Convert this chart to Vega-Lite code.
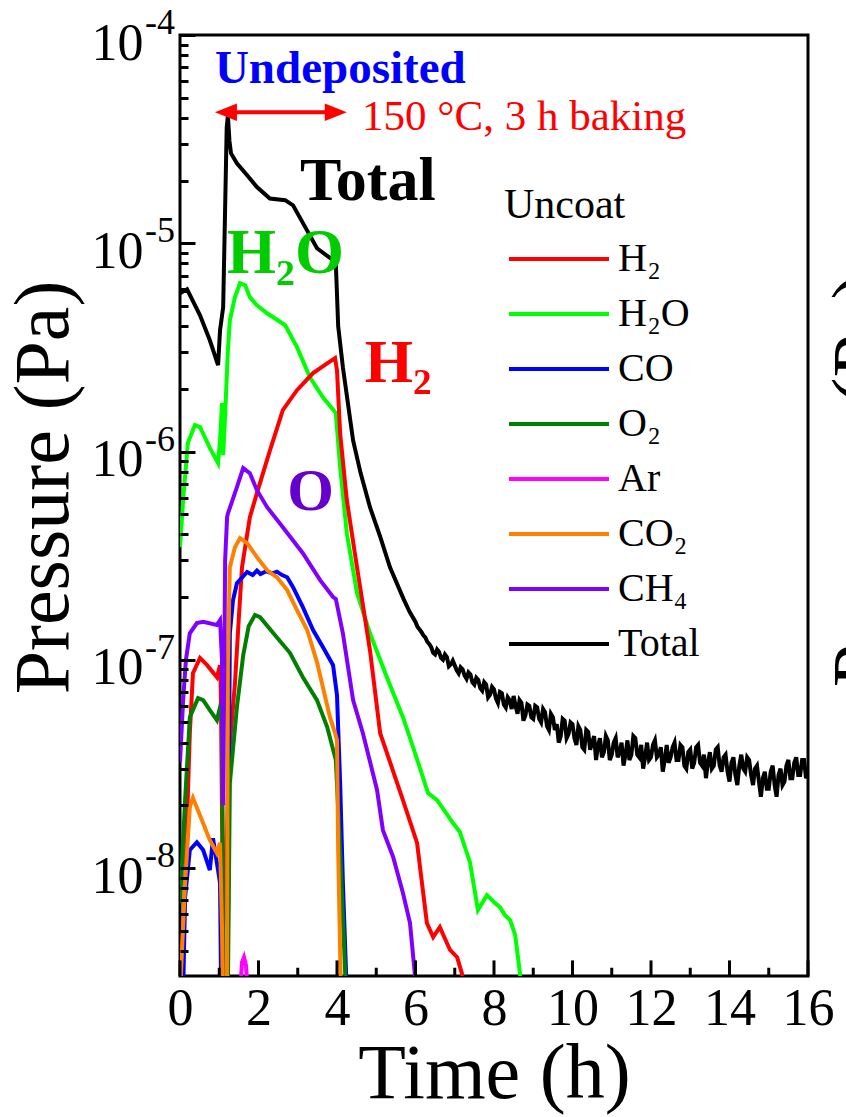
{
"$schema": "https://vega.github.io/schema/vega-lite/v6.json",
"width": 628, "height": 941,
"autosize": "none",
"padding": {"left": 180, "top": 35, "right": 38, "bottom": 141},
"background": "white",
"config": {"font": "Liberation Serif", "view": {"stroke": "black", "strokeWidth": 3}},
"resolve": {"axis": {"x": "independent", "y": "independent"}},
"datasets": {
"curves": [
{"gas":"Total","time":0,"pressure":5.75e-6},{"gas":"Total","time":0.18,"pressure":6.01e-6},{"gas":"Total","time":0.51,"pressure":4.51e-6},{"gas":"Total","time":0.76,"pressure":3.42e-6},{"gas":"Total","time":0.97,"pressure":2.60e-6},{"gas":"Total","time":1.02,"pressure":3.82e-6},{"gas":"Total","time":1.10,"pressure":4.93e-6},{"gas":"Total","time":1.19,"pressure":3.6e-5},{"gas":"Total","time":1.22,"pressure":4.1e-5},{"gas":"Total","time":1.26,"pressure":3.1e-5},{"gas":"Total","time":1.30,"pressure":2.70e-5},{"gas":"Total","time":1.45,"pressure":2.42e-5},{"gas":"Total","time":1.71,"pressure":2.12e-5},{"gas":"Total","time":1.96,"pressure":1.86e-5},{"gas":"Total","time":2.29,"pressure":1.64e-5},{"gas":"Total","time":2.68,"pressure":1.61e-5},{"gas":"Total","time":2.88,"pressure":1.52e-5},{"gas":"Total","time":3.24,"pressure":1.15e-5},{"gas":"Total","time":3.49,"pressure":9.46e-6},{"gas":"Total","time":3.90,"pressure":8.29e-6},{"gas":"Total","time":3.97,"pressure":8.02e-6},{"gas":"Total","time":4.03,"pressure":4.0e-6},{"gas":"Total","time":4.15,"pressure":2.54e-6},{"gas":"Total","time":4.41,"pressure":1.13e-6},{"gas":"Total","time":4.60,"pressure":7.9e-7},{"gas":"Total","time":4.84,"pressure":5.40e-7},{"gas":"Total","time":5.10,"pressure":3.9e-7},{"gas":"Total","time":5.35,"pressure":2.78e-7},{"gas":"Total","time":5.70,"pressure":1.95e-7},{"gas":"Total","time":5.85,"pressure":1.7e-7},
{"gas":"Total","time":6.0,"pressure":1.52e-7},{"gas":"Total","time":6.05,"pressure":1.44e-7},{"gas":"Total","time":6.1,"pressure":1.40e-7},{"gas":"Total","time":6.15,"pressure":1.36e-7},{"gas":"Total","time":6.2,"pressure":1.31e-7},{"gas":"Total","time":6.25,"pressure":1.28e-7},{"gas":"Total","time":6.3,"pressure":1.22e-7},{"gas":"Total","time":6.35,"pressure":1.19e-7},{"gas":"Total","time":6.4,"pressure":1.15e-7},{"gas":"Total","time":6.45,"pressure":1.08e-7},{"gas":"Total","time":6.5,"pressure":1.06e-7},{"gas":"Total","time":6.55,"pressure":1.12e-7},{"gas":"Total","time":6.6,"pressure":1.09e-7},{"gas":"Total","time":6.65,"pressure":1.02e-7},{"gas":"Total","time":6.7,"pressure":1.00e-7},{"gas":"Total","time":6.75,"pressure":1.06e-7},{"gas":"Total","time":6.8,"pressure":1.03e-7},{"gas":"Total","time":6.85,"pressure":9.3e-8},{"gas":"Total","time":6.9,"pressure":9.5e-8},{"gas":"Total","time":6.95,"pressure":9.9e-8},
{"gas":"Total","time":7.0,"pressure":9.4e-8},{"gas":"Total","time":7.05,"pressure":8.9e-8},{"gas":"Total","time":7.1,"pressure":8.6e-8},{"gas":"Total","time":7.15,"pressure":9.2e-8},{"gas":"Total","time":7.2,"pressure":9.0e-8},{"gas":"Total","time":7.25,"pressure":8.4e-8},{"gas":"Total","time":7.3,"pressure":8.1e-8},{"gas":"Total","time":7.35,"pressure":8.7e-8},{"gas":"Total","time":7.4,"pressure":8.5e-8},{"gas":"Total","time":7.45,"pressure":7.8e-8},{"gas":"Total","time":7.5,"pressure":7.6e-8},{"gas":"Total","time":7.55,"pressure":8.2e-8},{"gas":"Total","time":7.6,"pressure":8.0e-8},{"gas":"Total","time":7.65,"pressure":7.3e-8},{"gas":"Total","time":7.7,"pressure":7.1e-8},{"gas":"Total","time":7.75,"pressure":7.8e-8},{"gas":"Total","time":7.8,"pressure":7.6e-8},{"gas":"Total","time":7.85,"pressure":6.6e-8},{"gas":"Total","time":7.9,"pressure":6.8e-8},{"gas":"Total","time":7.95,"pressure":7.4e-8},
{"gas":"Total","time":8.0,"pressure":7.2e-8},{"gas":"Total","time":8.05,"pressure":6.5e-8},{"gas":"Total","time":8.1,"pressure":6.2e-8},{"gas":"Total","time":8.15,"pressure":7.0e-8},{"gas":"Total","time":8.2,"pressure":6.9e-8},{"gas":"Total","time":8.25,"pressure":6.1e-8},{"gas":"Total","time":8.3,"pressure":5.9e-8},{"gas":"Total","time":8.35,"pressure":6.6e-8},{"gas":"Total","time":8.4,"pressure":6.4e-8},{"gas":"Total","time":8.45,"pressure":5.8e-8},{"gas":"Total","time":8.5,"pressure":6.7e-8},{"gas":"Total","time":8.55,"pressure":6.0e-8},{"gas":"Total","time":8.6,"pressure":5.5e-8},{"gas":"Total","time":8.65,"pressure":6.4e-8},{"gas":"Total","time":8.7,"pressure":6.2e-8},{"gas":"Total","time":8.75,"pressure":5.1e-8},{"gas":"Total","time":8.8,"pressure":5.4e-8},{"gas":"Total","time":8.85,"pressure":6.1e-8},{"gas":"Total","time":8.9,"pressure":6.0e-8},{"gas":"Total","time":8.95,"pressure":5.3e-8},
{"gas":"Total","time":9.0,"pressure":5.2e-8},{"gas":"Total","time":9.05,"pressure":6.0e-8},{"gas":"Total","time":9.1,"pressure":5.9e-8},{"gas":"Total","time":9.15,"pressure":5.2e-8},{"gas":"Total","time":9.2,"pressure":5.0e-8},{"gas":"Total","time":9.25,"pressure":5.8e-8},{"gas":"Total","time":9.3,"pressure":5.6e-8},{"gas":"Total","time":9.35,"pressure":4.8e-8},{"gas":"Total","time":9.4,"pressure":4.6e-8},{"gas":"Total","time":9.45,"pressure":5.5e-8},{"gas":"Total","time":9.5,"pressure":5.3e-8},{"gas":"Total","time":9.55,"pressure":4.6e-8},{"gas":"Total","time":9.6,"pressure":4.9e-8},{"gas":"Total","time":9.65,"pressure":4.0e-8},{"gas":"Total","time":9.7,"pressure":4.3e-8},{"gas":"Total","time":9.75,"pressure":5.2e-8},{"gas":"Total","time":9.8,"pressure":5.1e-8},{"gas":"Total","time":9.85,"pressure":4.2e-8},{"gas":"Total","time":9.9,"pressure":4.4e-8},{"gas":"Total","time":9.95,"pressure":5.0e-8},
{"gas":"Total","time":10.0,"pressure":4.9e-8},{"gas":"Total","time":10.05,"pressure":4.2e-8},{"gas":"Total","time":10.1,"pressure":3.9e-8},{"gas":"Total","time":10.15,"pressure":4.8e-8},{"gas":"Total","time":10.2,"pressure":4.6e-8},{"gas":"Total","time":10.25,"pressure":3.8e-8},{"gas":"Total","time":10.3,"pressure":3.7e-8},{"gas":"Total","time":10.35,"pressure":4.6e-8},{"gas":"Total","time":10.4,"pressure":4.5e-8},{"gas":"Total","time":10.45,"pressure":3.7e-8},{"gas":"Total","time":10.5,"pressure":4.0e-8},{"gas":"Total","time":10.55,"pressure":4.3e-8},{"gas":"Total","time":10.6,"pressure":3.3e-8},{"gas":"Total","time":10.65,"pressure":3.9e-8},{"gas":"Total","time":10.7,"pressure":4.2e-8},{"gas":"Total","time":10.75,"pressure":3.4e-8},{"gas":"Total","time":10.8,"pressure":3.6e-8},{"gas":"Total","time":10.85,"pressure":4.3e-8},{"gas":"Total","time":10.9,"pressure":4.1e-8},{"gas":"Total","time":10.95,"pressure":3.3e-8},
{"gas":"Total","time":11.0,"pressure":3.5e-8},{"gas":"Total","time":11.05,"pressure":4.0e-8},{"gas":"Total","time":11.1,"pressure":4.2e-8},{"gas":"Total","time":11.15,"pressure":3.4e-8},{"gas":"Total","time":11.2,"pressure":3.6e-8},{"gas":"Total","time":11.25,"pressure":4.0e-8},{"gas":"Total","time":11.3,"pressure":3.1e-8},{"gas":"Total","time":11.35,"pressure":3.5e-8},{"gas":"Total","time":11.4,"pressure":4.1e-8},{"gas":"Total","time":11.45,"pressure":3.3e-8},{"gas":"Total","time":11.5,"pressure":3.5e-8},{"gas":"Total","time":11.55,"pressure":4.3e-8},{"gas":"Total","time":11.6,"pressure":4.2e-8},{"gas":"Total","time":11.65,"pressure":3.5e-8},{"gas":"Total","time":11.7,"pressure":3.4e-8},{"gas":"Total","time":11.75,"pressure":3.9e-8},{"gas":"Total","time":11.8,"pressure":3.0e-8},{"gas":"Total","time":11.85,"pressure":3.4e-8},{"gas":"Total","time":11.9,"pressure":4.0e-8},{"gas":"Total","time":11.95,"pressure":3.3e-8},
{"gas":"Total","time":12.0,"pressure":3.4e-8},{"gas":"Total","time":12.05,"pressure":3.9e-8},{"gas":"Total","time":12.1,"pressure":4.1e-8},{"gas":"Total","time":12.15,"pressure":3.4e-8},{"gas":"Total","time":12.2,"pressure":3.5e-8},{"gas":"Total","time":12.25,"pressure":3.8e-8},{"gas":"Total","time":12.3,"pressure":2.9e-8},{"gas":"Total","time":12.35,"pressure":3.3e-8},{"gas":"Total","time":12.4,"pressure":3.9e-8},{"gas":"Total","time":12.45,"pressure":3.2e-8},{"gas":"Total","time":12.5,"pressure":3.4e-8},{"gas":"Total","time":12.55,"pressure":3.8e-8},{"gas":"Total","time":12.6,"pressure":4.0e-8},{"gas":"Total","time":12.65,"pressure":3.3e-8},{"gas":"Total","time":12.7,"pressure":3.3e-8},{"gas":"Total","time":12.75,"pressure":3.9e-8},{"gas":"Total","time":12.8,"pressure":3.8e-8},{"gas":"Total","time":12.85,"pressure":3.1e-8},{"gas":"Total","time":12.9,"pressure":3.0e-8},{"gas":"Total","time":12.95,"pressure":3.6e-8},
{"gas":"Total","time":13.0,"pressure":3.7e-8},{"gas":"Total","time":13.05,"pressure":3.0e-8},{"gas":"Total","time":13.1,"pressure":3.2e-8},{"gas":"Total","time":13.15,"pressure":3.8e-8},{"gas":"Total","time":13.2,"pressure":3.9e-8},{"gas":"Total","time":13.25,"pressure":3.2e-8},{"gas":"Total","time":13.3,"pressure":3.1e-8},{"gas":"Total","time":13.35,"pressure":3.5e-8},{"gas":"Total","time":13.4,"pressure":2.7e-8},{"gas":"Total","time":13.45,"pressure":3.2e-8},{"gas":"Total","time":13.5,"pressure":3.6e-8},{"gas":"Total","time":13.55,"pressure":3.0e-8},{"gas":"Total","time":13.6,"pressure":3.1e-8},{"gas":"Total","time":13.65,"pressure":3.7e-8},{"gas":"Total","time":13.7,"pressure":3.8e-8},{"gas":"Total","time":13.75,"pressure":3.1e-8},{"gas":"Total","time":13.8,"pressure":2.9e-8},{"gas":"Total","time":13.85,"pressure":3.4e-8},{"gas":"Total","time":13.9,"pressure":3.5e-8},{"gas":"Total","time":13.95,"pressure":2.9e-8},
{"gas":"Total","time":14.0,"pressure":2.6e-8},{"gas":"Total","time":14.05,"pressure":3.2e-8},{"gas":"Total","time":14.1,"pressure":3.4e-8},{"gas":"Total","time":14.15,"pressure":2.8e-8},{"gas":"Total","time":14.2,"pressure":2.5e-8},{"gas":"Total","time":14.25,"pressure":3.1e-8},{"gas":"Total","time":14.3,"pressure":3.5e-8},{"gas":"Total","time":14.35,"pressure":3.0e-8},{"gas":"Total","time":14.4,"pressure":2.9e-8},{"gas":"Total","time":14.45,"pressure":3.4e-8},{"gas":"Total","time":14.5,"pressure":3.3e-8},{"gas":"Total","time":14.55,"pressure":2.8e-8},{"gas":"Total","time":14.6,"pressure":2.5e-8},{"gas":"Total","time":14.65,"pressure":3.0e-8},{"gas":"Total","time":14.7,"pressure":3.1e-8},{"gas":"Total","time":14.75,"pressure":2.6e-8},{"gas":"Total","time":14.8,"pressure":2.2e-8},{"gas":"Total","time":14.85,"pressure":2.7e-8},{"gas":"Total","time":14.9,"pressure":2.9e-8},{"gas":"Total","time":14.95,"pressure":2.4e-8},
{"gas":"Total","time":15.0,"pressure":2.4e-8},{"gas":"Total","time":15.05,"pressure":2.9e-8},{"gas":"Total","time":15.1,"pressure":3.1e-8},{"gas":"Total","time":15.15,"pressure":2.5e-8},{"gas":"Total","time":15.2,"pressure":2.2e-8},{"gas":"Total","time":15.25,"pressure":2.8e-8},{"gas":"Total","time":15.3,"pressure":3.0e-8},{"gas":"Total","time":15.35,"pressure":2.5e-8},{"gas":"Total","time":15.4,"pressure":2.6e-8},{"gas":"Total","time":15.45,"pressure":3.1e-8},{"gas":"Total","time":15.5,"pressure":3.3e-8},{"gas":"Total","time":15.55,"pressure":2.7e-8},{"gas":"Total","time":15.6,"pressure":2.7e-8},{"gas":"Total","time":15.65,"pressure":3.2e-8},{"gas":"Total","time":15.7,"pressure":3.4e-8},{"gas":"Total","time":15.75,"pressure":2.8e-8},{"gas":"Total","time":15.8,"pressure":2.8e-8},{"gas":"Total","time":15.85,"pressure":3.3e-8},{"gas":"Total","time":15.9,"pressure":3.3e-8},{"gas":"Total","time":15.95,"pressure":2.7e-8},{"gas":"Total","time":16.0,"pressure":2.9e-8},

{"gas":"H₂O","time":0,"pressure":3.47e-7},{"gas":"H₂O","time":0.08,"pressure":5.84e-7},{"gas":"H₂O","time":0.20,"pressure":1.10e-6},{"gas":"H₂O","time":0.38,"pressure":1.34e-6},{"gas":"H₂O","time":0.51,"pressure":1.31e-6},{"gas":"H₂O","time":0.76,"pressure":1.04e-6},{"gas":"H₂O","time":0.97,"pressure":8.79e-7},{"gas":"H₂O","time":1.02,"pressure":1.13e-6},{"gas":"H₂O","time":1.07,"pressure":1.71e-6},{"gas":"H₂O","time":1.10,"pressure":9.60e-7},{"gas":"H₂O","time":1.15,"pressure":1.5e-6},{"gas":"H₂O","time":1.22,"pressure":3.06e-6},{"gas":"H₂O","time":1.27,"pressure":4.27e-6},{"gas":"H₂O","time":1.40,"pressure":5.51e-6},{"gas":"H₂O","time":1.53,"pressure":6.43e-6},{"gas":"H₂O","time":1.66,"pressure":6.29e-6},{"gas":"H₂O","time":1.78,"pressure":5.51e-6},{"gas":"H₂O","time":1.96,"pressure":5.04e-6},{"gas":"H₂O","time":2.22,"pressure":4.61e-6},{"gas":"H₂O","time":2.68,"pressure":4.04e-6},{"gas":"H₂O","time":2.98,"pressure":3.17e-6},{"gas":"H₂O","time":3.31,"pressure":2.27e-6},{"gas":"H₂O","time":3.64,"pressure":1.82e-6},{"gas":"H₂O","time":3.97,"pressure":1.53e-6},{"gas":"H₂O","time":4.08,"pressure":8.41e-7},{"gas":"H₂O","time":4.25,"pressure":4.05e-7},{"gas":"H₂O","time":4.51,"pressure":2.09e-7},{"gas":"H₂O","time":4.84,"pressure":1.34e-7},{"gas":"H₂O","time":5.27,"pressure":8.24e-8},{"gas":"H₂O","time":5.68,"pressure":5.30e-8},{"gas":"H₂O","time":5.94,"pressure":3.80e-8},{"gas":"H₂O","time":6.32,"pressure":2.29e-8},{"gas":"H₂O","time":6.55,"pressure":2.12e-8},{"gas":"H₂O","time":6.96,"pressure":1.64e-8},{"gas":"H₂O","time":7.13,"pressure":1.49e-8},{"gas":"H₂O","time":7.39,"pressure":1.06e-8},{"gas":"H₂O","time":7.59,"pressure":6.28e-9},{"gas":"H₂O","time":7.82,"pressure":7.41e-9},{"gas":"H₂O","time":8.03,"pressure":6.78e-9},{"gas":"H₂O","time":8.15,"pressure":6.49e-9},{"gas":"H₂O","time":8.28,"pressure":5.94e-9},{"gas":"H₂O","time":8.41,"pressure":5.62e-9},{"gas":"H₂O","time":8.54,"pressure":4.76e-9},{"gas":"H₂O","time":8.66,"pressure":3.13e-9},{"gas":"H₂O","time":8.71,"pressure":2.5e-9},

{"gas":"H₂","time":0,"pressure":2.5e-9},{"gas":"H₂","time":0.13,"pressure":8.46e-9},{"gas":"H₂","time":0.25,"pressure":4.44e-8},{"gas":"H₂","time":0.33,"pressure":8.62e-8},{"gas":"H₂","time":0.51,"pressure":1.02e-7},{"gas":"H₂","time":0.69,"pressure":9.42e-8},{"gas":"H₂","time":0.94,"pressure":8.24e-8},{"gas":"H₂","time":1.02,"pressure":9.42e-8},{"gas":"H₂","time":1.04,"pressure":7.15e-8},{"gas":"H₂","time":1.10,"pressure":5.04e-9},{"gas":"H₂","time":1.15,"pressure":7.0e-9},{"gas":"H₂","time":1.25,"pressure":3.5e-8},{"gas":"H₂","time":1.40,"pressure":7.7e-8},{"gas":"H₂","time":1.50,"pressure":1.6e-7},{"gas":"H₂","time":1.58,"pressure":2.78e-7},{"gas":"H₂","time":1.78,"pressure":4.84e-7},{"gas":"H₂","time":1.96,"pressure":6.31e-7},{"gas":"H₂","time":2.29,"pressure":1.01e-6},{"gas":"H₂","time":2.62,"pressure":1.58e-6},{"gas":"H₂","time":2.98,"pressure":1.97e-6},{"gas":"H₂","time":3.39,"pressure":2.38e-6},{"gas":"H₂","time":3.75,"pressure":2.65e-6},{"gas":"H₂","time":3.95,"pressure":2.81e-6},{"gas":"H₂","time":4.00,"pressure":2.46e-6},{"gas":"H₂","time":4.08,"pressure":1.22e-6},{"gas":"H₂","time":4.25,"pressure":5.84e-7},{"gas":"H₂","time":4.51,"pressure":2.78e-7},{"gas":"H₂","time":4.84,"pressure":1.11e-7},{"gas":"H₂","time":5.10,"pressure":4.44e-8},{"gas":"H₂","time":5.68,"pressure":2.12e-8},{"gas":"H₂","time":6.04,"pressure":1.32e-8},{"gas":"H₂","time":6.29,"pressure":5.44e-9},{"gas":"H₂","time":6.45,"pressure":4.66e-9},{"gas":"H₂","time":6.62,"pressure":5.20e-9},{"gas":"H₂","time":6.88,"pressure":4.04e-9},{"gas":"H₂","time":7.06,"pressure":3.73e-9},{"gas":"H₂","time":7.18,"pressure":3.13e-9},{"gas":"H₂","time":7.26,"pressure":2.5e-9},

{"gas":"CO","time":0.08,"pressure":2.5e-9},{"gas":"CO","time":0.13,"pressure":7.25e-9},{"gas":"CO","time":0.25,"pressure":1.22e-8},{"gas":"CO","time":0.43,"pressure":1.33e-8},{"gas":"CO","time":0.59,"pressure":1.22e-8},{"gas":"CO","time":0.76,"pressure":9.77e-9},{"gas":"CO","time":0.84,"pressure":1.39e-8},{"gas":"CO","time":0.97,"pressure":9.77e-9},{"gas":"CO","time":1.02,"pressure":8.46e-9},{"gas":"CO","time":1.07,"pressure":1e-9},{"gas":"CO","time":1.20,"pressure":1e-9},{"gas":"CO","time":1.27,"pressure":1.34e-7},{"gas":"CO","time":1.35,"pressure":1.93e-7},{"gas":"CO","time":1.45,"pressure":2.33e-7},{"gas":"CO","time":1.71,"pressure":2.64e-7},{"gas":"CO","time":1.85,"pressure":2.55e-7},{"gas":"CO","time":1.96,"pressure":2.68e-7},{"gas":"CO","time":2.05,"pressure":2.58e-7},{"gas":"CO","time":2.20,"pressure":2.66e-7},{"gas":"CO","time":2.35,"pressure":2.6e-7},{"gas":"CO","time":2.47,"pressure":2.65e-7},{"gas":"CO","time":2.60,"pressure":2.55e-7},{"gas":"CO","time":2.73,"pressure":2.49e-7},{"gas":"CO","time":2.88,"pressure":2.23e-7},{"gas":"CO","time":3.13,"pressure":1.79e-7},{"gas":"CO","time":3.39,"pressure":1.39e-7},{"gas":"CO","time":3.64,"pressure":1.15e-7},{"gas":"CO","time":3.90,"pressure":9.42e-8},{"gas":"CO","time":4.00,"pressure":6.76e-8},{"gas":"CO","time":4.08,"pressure":2.56e-8},{"gas":"CO","time":4.15,"pressure":8.46e-9},{"gas":"CO","time":4.25,"pressure":2.5e-9},

{"gas":"O₂","time":0,"pressure":6.78e-9},{"gas":"O₂","time":0.13,"pressure":2.12e-8},{"gas":"O₂","time":0.25,"pressure":5.30e-8},{"gas":"O₂","time":0.46,"pressure":6.54e-8},{"gas":"O₂","time":0.59,"pressure":6.40e-8},{"gas":"O₂","time":0.76,"pressure":5.73e-8},{"gas":"O₂","time":0.94,"pressure":5.13e-8},{"gas":"O₂","time":1.02,"pressure":5.92e-8},{"gas":"O₂","time":1.07,"pressure":5.73e-8},{"gas":"O₂","time":1.12,"pressure":1e-9},{"gas":"O₂","time":1.20,"pressure":1e-9},{"gas":"O₂","time":1.27,"pressure":2.56e-8},{"gas":"O₂","time":1.45,"pressure":5.92e-8},{"gas":"O₂","time":1.61,"pressure":1.05e-7},{"gas":"O₂","time":1.75,"pressure":1.45e-7},{"gas":"O₂","time":1.91,"pressure":1.64e-7},{"gas":"O₂","time":2.04,"pressure":1.60e-7},{"gas":"O₂","time":2.47,"pressure":1.28e-7},{"gas":"O₂","time":2.80,"pressure":1.08e-7},{"gas":"O₂","time":3.13,"pressure":8.24e-8},{"gas":"O₂","time":3.49,"pressure":6.40e-8},{"gas":"O₂","time":3.75,"pressure":4.75e-8},{"gas":"O₂","time":3.97,"pressure":3.30e-8},{"gas":"O₂","time":4.08,"pressure":1.22e-8},{"gas":"O₂","time":4.15,"pressure":5.81e-9},{"gas":"O₂","time":4.23,"pressure":2.5e-9},

{"gas":"Ar","time":1.53,"pressure":2.5e-9},{"gas":"Ar","time":1.58,"pressure":3.53e-9},{"gas":"Ar","time":1.63,"pressure":3.73e-9},{"gas":"Ar","time":1.68,"pressure":3.42e-9},{"gas":"Ar","time":1.73,"pressure":2.5e-9},

{"gas":"CO₂","time":0,"pressure":2.5e-9},{"gas":"CO₂","time":0.13,"pressure":8.46e-9},{"gas":"CO₂","time":0.25,"pressure":1.96e-8},{"gas":"CO₂","time":0.33,"pressure":2.17e-8},{"gas":"CO₂","time":0.59,"pressure":1.64e-8},{"gas":"CO₂","time":0.76,"pressure":1.36e-8},{"gas":"CO₂","time":0.94,"pressure":1.18e-8},{"gas":"CO₂","time":1.02,"pressure":1.32e-8},{"gas":"CO₂","time":1.07,"pressure":5.20e-9},{"gas":"CO₂","time":1.12,"pressure":1e-9},{"gas":"CO₂","time":1.19,"pressure":1e-9},{"gas":"CO₂","time":1.22,"pressure":9.21e-8},{"gas":"CO₂","time":1.27,"pressure":2.78e-7},{"gas":"CO₂","time":1.40,"pressure":3.47e-7},{"gas":"CO₂","time":1.53,"pressure":3.84e-7},{"gas":"CO₂","time":1.71,"pressure":3.63e-7},{"gas":"CO₂","time":1.96,"pressure":3.11e-7},{"gas":"CO₂","time":2.22,"pressure":2.69e-7},{"gas":"CO₂","time":2.47,"pressure":2.49e-7},{"gas":"CO₂","time":2.73,"pressure":2.16e-7},{"gas":"CO₂","time":2.98,"pressure":1.73e-7},{"gas":"CO₂","time":3.24,"pressure":1.39e-7},{"gas":"CO₂","time":3.49,"pressure":9.74e-8},{"gas":"CO₂","time":3.82,"pressure":5.30e-8},{"gas":"CO₂","time":3.95,"pressure":4.44e-8},{"gas":"CO₂","time":4.00,"pressure":4.11e-8},{"gas":"CO₂","time":4.03,"pressure":1.22e-8},{"gas":"CO₂","time":4.10,"pressure":2.5e-9},

{"gas":"CH₄","time":0,"pressure":3.22e-8},{"gas":"CH₄","time":0.08,"pressure":6.40e-8},{"gas":"CH₄","time":0.15,"pressure":9.95e-8},{"gas":"CH₄","time":0.25,"pressure":1.34e-7},{"gas":"CH₄","time":0.43,"pressure":1.50e-7},{"gas":"CH₄","time":0.59,"pressure":1.52e-7},{"gas":"CH₄","time":0.94,"pressure":1.47e-7},{"gas":"CH₄","time":1.02,"pressure":1.55e-7},{"gas":"CH₄","time":1.07,"pressure":1.0e-7},{"gas":"CH₄","time":1.10,"pressure":2.0e-8},{"gas":"CH₄","time":1.15,"pressure":3.0e-7},{"gas":"CH₄","time":1.20,"pressure":4.84e-7},{"gas":"CH₄","time":1.22,"pressure":5.03e-7},{"gas":"CH₄","time":1.45,"pressure":6.74e-7},{"gas":"CH₄","time":1.61,"pressure":8.32e-7},{"gas":"CH₄","time":1.78,"pressure":7.87e-7},{"gas":"CH₄","time":1.96,"pressure":6.52e-7},{"gas":"CH₄","time":2.22,"pressure":5.40e-7},{"gas":"CH₄","time":2.62,"pressure":4.33e-7},{"gas":"CH₄","time":3.13,"pressure":3.25e-7},{"gas":"CH₄","time":3.57,"pressure":2.41e-7},{"gas":"CH₄","time":3.90,"pressure":2.00e-7},{"gas":"CH₄","time":3.97,"pressure":1.96e-7},{"gas":"CH₄","time":4.15,"pressure":1.34e-7},{"gas":"CH₄","time":4.41,"pressure":6.40e-8},{"gas":"CH₄","time":4.66,"pressure":4.44e-8},{"gas":"CH₄","time":5.02,"pressure":2.37e-8},{"gas":"CH₄","time":5.17,"pressure":1.52e-8},{"gas":"CH₄","time":5.43,"pressure":1.13e-8},{"gas":"CH₄","time":5.68,"pressure":7.58e-9},{"gas":"CH₄","time":5.86,"pressure":5.44e-9},{"gas":"CH₄","time":5.99,"pressure":3.0e-9},{"gas":"CH₄","time":6.01,"pressure":2.5e-9}
],
"exponents": [{"value":1e-4,"exponent":"-4"},{"value":1e-5,"exponent":"-5"},{"value":1e-6,"exponent":"-6"},{"value":1e-7,"exponent":"-7"},{"value":1e-8,"exponent":"-8"}],
"majorTicks": [{"time":0},{"time":2},{"time":4},{"time":6},{"time":8},{"time":10},{"time":12},{"time":14},{"time":16}],
"minorTicks": [{"time":1},{"time":3},{"time":5},{"time":7},{"time":9},{"time":11},{"time":13},{"time":15}],
"single": [{}]
},
"layer": [
{
"data": {"name": "curves"},
"mark": {"type": "line", "strokeWidth": 4, "clip": true},
"encoding": {
"x": {"field": "time", "type": "quantitative", "scale": {"domain": [0, 16], "nice": false, "zero": false},
 "axis": {"values": [0,2,4,6,8,10,12,14,16], "orient": "bottom", "title": "Time (h)", "titleFont": "Liberation Serif", "titleFontSize": 78, "titleFontWeight": "normal", "titleColor": "black", "titleBaseline": "alphabetic", "titleY": 121,
 "labelFont": "Liberation Serif", "labelFontSize": 52, "labelColor": "black", "labelBaseline": "alphabetic", "labelPadding": 48, "labelFlush": false, "labelOverlap": false,
 "ticks": false, "tickSize": 0, "domain": false, "grid": false}},
"y": {"field": "pressure", "type": "quantitative", "scale": {"type": "log", "domain": [3.03e-9, 1e-4], "nice": false},
 "axis": {"values": [4e-9,5e-9,6e-9,7e-9,8e-9,9e-9,1e-8,2e-8,3e-8,4e-8,5e-8,6e-8,7e-8,8e-8,9e-8,1e-7,2e-7,3e-7,4e-7,5e-7,6e-7,7e-7,8e-7,9e-7,1e-6,2e-6,3e-6,4e-6,5e-6,6e-6,7e-6,8e-6,9e-6,1e-5,2e-5,3e-5,4e-5,5e-5,6e-5,7e-5,8e-5,9e-5,1e-4],
 "orient": "left", "title": "Pressure (Pa)", "titleFont": "Liberation Serif", "titleFontSize": 78, "titleFontWeight": "normal", "titleColor": "black", "titleAngle": 270, "titleX": -113, "titleY": 452, "titleAlign": "center", "titleBaseline": "alphabetic",
 "labelExpr": "abs(log(datum.value)/LN10 - round(log(datum.value)/LN10)) < 0.001 ? '10' : ''", "labelFont": "Liberation Serif", "labelFontSize": 52, "labelColor": "black", "labelAlign": "right", "labelBaseline": "alphabetic", "labelOffset": 24, "labelPadding": 52, "labelOverlap": false, "labelFlush": false,
 "tickSize": {"condition": {"test": "abs(log(datum.value)/LN10 - round(log(datum.value)/LN10)) < 0.001", "value": -15}, "value": -8}, "tickWidth": 3, "tickColor": "black", "domain": false, "grid": false, "zindex": 1}},
"color": {"field": "gas", "type": "nominal",
 "scale": {"domain": ["H₂","H₂O","CO","O₂","Ar","CO₂","CH₄","Total"], "range": ["#ff0000","#00ff00","#0000ff","#007f00","#ff00ff","#ff8000","#8000ff","#000000"]},
 "legend": {"title": "Uncoat", "orient": "none", "legendX": 324, "legendY": 150, "padding": 0, "titleFont": "Liberation Serif", "titleFontSize": 42, "titleFontWeight": "normal", "titleColor": "black", "titlePadding": 12,
  "labelFont": "Liberation Serif", "labelFontSize": 40, "labelColor": "black", "labelOffset": 74, "symbolType": "M-1.2,0H6.8", "symbolSize": 625, "symbolStrokeWidth": 4, "rowPadding": 15}}
}
},
{
"data": {"name": "majorTicks"},
"mark": {"type": "rule", "color": "black", "strokeWidth": 3},
"encoding": {"x": {"field": "time", "type": "quantitative", "axis": null}, "y": {"datum": 3.03e-9, "type": "quantitative", "scale": {"type": "log"}, "axis": null}, "y2": {"datum": 3.6e-9}}
},
{
"data": {"name": "minorTicks"},
"mark": {"type": "rule", "color": "black", "strokeWidth": 3},
"encoding": {"x": {"field": "time", "type": "quantitative", "axis": null}, "y": {"datum": 3.03e-9, "type": "quantitative", "scale": {"type": "log"}, "axis": null}, "y2": {"datum": 3.32e-9}}
},
{
"data": {"name": "exponents"},
"mark": {"type": "text", "align": "left", "baseline": "alphabetic", "dx": -35, "dy": -1, "fontSize": 36, "font": "Liberation Serif", "color": "black"},
"encoding": {
"x": {"datum": 0, "type": "quantitative", "axis": null},
"y": {"field": "value", "type": "quantitative", "scale": {"type": "log"},
 "axis": {"orient": "right", "title": "Pressure (Pa)", "titleFont": "Liberation Serif", "titleFontSize": 78, "titleFontWeight": "normal", "titleColor": "black", "titleAngle": 270, "titleX": 77, "titleY": 445, "titleAlign": "center", "titleBaseline": "alphabetic", "labels": false, "ticks": false, "domain": false, "grid": false}},
"text": {"field": "exponent"}
}
},
{
"data": {"name": "single"},
"mark": {"type": "rule", "color": "#ff0000", "strokeWidth": 4},
"encoding": {"x": {"datum": 1.17, "type": "quantitative", "axis": null}, "x2": {"datum": 3.97}, "y": {"datum": 4.26e-5, "type": "quantitative", "scale": {"type": "log"}, "axis": null}}
},
{
"data": {"name": "single"},
"mark": {"type": "point", "shape": "M-1,0L1,-0.8L1,0.8Z", "size": 484, "filled": true, "color": "#ff0000", "opacity": 1, "strokeWidth": 0},
"encoding": {"x": {"datum": 1.17, "type": "quantitative", "axis": null}, "y": {"datum": 4.26e-5, "type": "quantitative", "scale": {"type": "log"}, "axis": null}}
},
{
"data": {"name": "single"},
"mark": {"type": "point", "shape": "M1,0L-1,-0.8L-1,0.8Z", "size": 484, "filled": true, "color": "#ff0000", "opacity": 1, "strokeWidth": 0},
"encoding": {"x": {"datum": 3.97, "type": "quantitative", "axis": null}, "y": {"datum": 4.26e-5, "type": "quantitative", "scale": {"type": "log"}, "axis": null}}
},
{
"data": {"name": "single"},
"mark": {"type": "text", "text": "Undeposited", "align": "left", "baseline": "alphabetic", "font": "Liberation Serif", "fontSize": 47, "fontWeight": "bold", "color": "#0000ff"},
"encoding": {"x": {"datum": 0.89, "type": "quantitative", "axis": null}, "y": {"datum": 5.86e-5, "type": "quantitative", "scale": {"type": "log"}, "axis": null}}
},
{
"data": {"name": "single"},
"mark": {"type": "text", "text": "150 °C, 3 h baking", "align": "left", "baseline": "alphabetic", "font": "Liberation Serif", "fontSize": 43, "color": "#ff0000"},
"encoding": {"x": {"datum": 4.64, "type": "quantitative", "axis": null}, "y": {"datum": 3.49e-5, "type": "quantitative", "scale": {"type": "log"}, "axis": null}}
},
{
"data": {"name": "single"},
"mark": {"type": "text", "text": "Total", "align": "left", "baseline": "alphabetic", "font": "Liberation Serif", "fontSize": 62, "fontWeight": "bold", "color": "#000000"},
"encoding": {"x": {"datum": 3.06, "type": "quantitative", "axis": null}, "y": {"datum": 1.61e-5, "type": "quantitative", "scale": {"type": "log"}, "axis": null}}
},
{
"data": {"name": "single"},
"mark": {"type": "text", "text": "H₂O", "align": "left", "baseline": "alphabetic", "font": "Liberation Serif", "fontSize": 63, "fontWeight": "bold", "color": "#00cc00"},
"encoding": {"x": {"datum": 1.2, "type": "quantitative", "axis": null}, "y": {"datum": 7.18e-6, "type": "quantitative", "scale": {"type": "log"}, "axis": null}}
},
{
"data": {"name": "single"},
"mark": {"type": "text", "text": "H₂", "align": "left", "baseline": "alphabetic", "font": "Liberation Serif", "fontSize": 62, "fontWeight": "bold", "color": "#ff0000"},
"encoding": {"x": {"datum": 4.71, "type": "quantitative", "axis": null}, "y": {"datum": 2.15e-6, "type": "quantitative", "scale": {"type": "log"}, "axis": null}}
},
{
"data": {"name": "single"},
"mark": {"type": "text", "text": "O", "align": "left", "baseline": "alphabetic", "font": "Liberation Serif", "fontSize": 60, "fontWeight": "bold", "color": "#6600cc"},
"encoding": {"x": {"datum": 2.73, "type": "quantitative", "axis": null}, "y": {"datum": 5.22e-7, "type": "quantitative", "scale": {"type": "log"}, "axis": null}}
}
]
}
